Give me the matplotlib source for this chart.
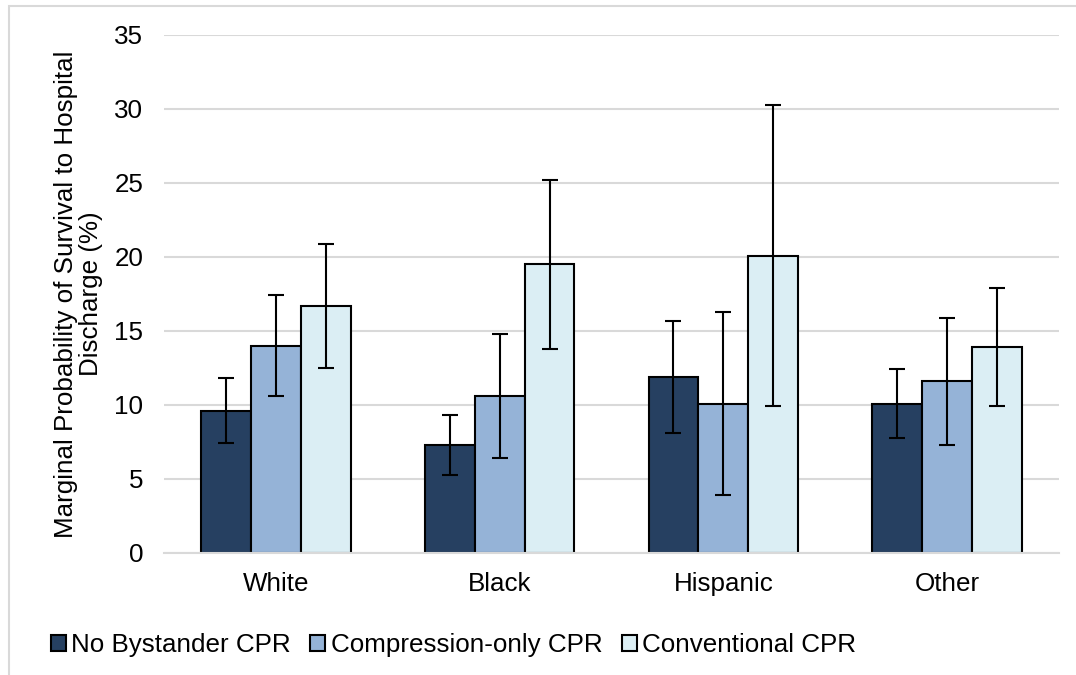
import matplotlib.pyplot as plt
from matplotlib.patches import Rectangle
import numpy as np

groups = ["White", "Black", "Hispanic", "Other"]
series = ["No Bystander CPR", "Compression-only CPR", "Conventional CPR"]
colors = ["#264061", "#95B3D7", "#DBEEF4"]

values = {
    "No Bystander CPR": [9.6, 7.3, 11.9, 10.1],
    "Compression-only CPR": [14.0, 10.6, 10.1, 11.6],
    "Conventional CPR": [16.7, 19.5, 20.1, 13.9],
}
lower = {
    "No Bystander CPR": [7.4, 5.3, 8.1, 7.8],
    "Compression-only CPR": [10.6, 6.4, 3.9, 7.3],
    "Conventional CPR": [12.5, 13.8, 9.9, 9.9],
}
upper = {
    "No Bystander CPR": [11.8, 9.3, 15.7, 12.4],
    "Compression-only CPR": [17.4, 14.8, 16.3, 15.9],
    "Conventional CPR": [20.9, 25.2, 30.3, 17.9],
}

plt.rcParams["font.family"] = ["Liberation Sans", "DejaVu Sans"]
fs = 18.7

fig = plt.figure(figsize=(10.76, 6.75), dpi=100)
ax = fig.add_axes([164 / 1076, 1 - 553 / 675, 895 / 1076, 518 / 675])

# light chart-area border (left and top visible)
fig.patches.append(Rectangle((9 / 1076, -0.05), 1.2, 1 - 6 / 675 + 0.05,
                             transform=fig.transFigure, fill=False,
                             edgecolor="#D9D9D9", linewidth=1.5))

x = np.arange(len(groups))
width = 0.223
for i, (name, color) in enumerate(zip(series, colors)):
    v = np.array(values[name])
    err = [v - np.array(lower[name]), np.array(upper[name]) - v]
    ax.bar(x + (i - 1) * width, v, width, color=color, edgecolor="black",
           linewidth=1.5, label=name, zorder=2)
    ax.errorbar(x + (i - 1) * width, v, yerr=err, fmt="none", ecolor="black",
                elinewidth=1.5, capsize=6, capthick=1.5, zorder=3)

ax.set_xlim(-0.5, len(groups) - 0.5)
ax.set_ylim(0, 35)
ax.set_yticks(range(0, 36, 5))
ax.set_xticks(x)
ax.set_xticklabels(groups)
ax.tick_params(length=0, labelsize=fs)
ax.tick_params(axis="x", pad=14)
ax.tick_params(axis="y", pad=15)
ax.grid(axis="y", color="#D9D9D9", linewidth=1.5, zorder=0)
ax.set_axisbelow(True)
for side in ["top", "right", "left"]:
    ax.spines[side].set_visible(False)
ax.spines["bottom"].set_color("#D9D9D9")
ax.spines["bottom"].set_linewidth(1.5)

ax.set_ylabel("Marginal Probability of Survival to Hospital\nDischarge (%)",
              fontsize=fs, labelpad=8, linespacing=1.08)

fig.legend(loc="center left", bbox_to_anchor=(51 / 1076, 1 - 645 / 675),
           ncol=3, frameon=False, fontsize=fs, handlelength=0.58,
           handleheight=0.58, handletextpad=0.2, columnspacing=0.75,
           borderpad=0, borderaxespad=0)

fig.savefig("out.png", dpi=100)
